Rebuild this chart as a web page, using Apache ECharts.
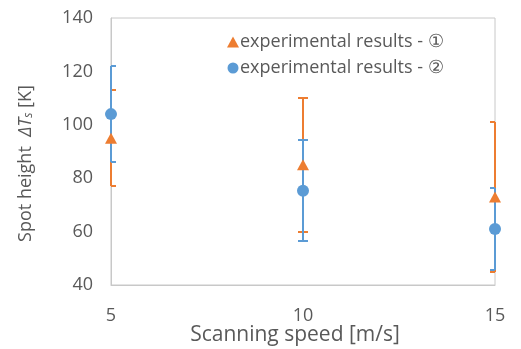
<!DOCTYPE html>
<html><head><meta charset="utf-8">
<script src="https://cdn.jsdelivr.net/npm/echarts@6/dist/echarts.min.js"></script>
<style>html,body{margin:0;padding:0;background:#fff}#c{width:521px;height:349px}</style>
</head><body><div id="c"></div>
<script>
const speeds = [5, 10, 15];
const res1 = [95, 85, 73];
const err1 = [18, 25, 28];
const res2 = [104, 75.3, 61];
const err2 = [18, 19, 15.5];
const yTicks = [40, 60, 80, 100, 120, 140];
const seriesNames = ['experimental results - ①', 'experimental results - ②'];
const orange = '#ED7D31', blue = '#5B9BD5';

function errData(vals, errs) {
  return speeds.map((s, i) => [s, vals[i] - errs[i], vals[i] + errs[i]]);
}
function errRender(color) {
  return function (params, api) {
    const x = api.value(0);
    const lo = api.coord([x, api.value(1)]);
    const hi = api.coord([x, api.value(2)]);
    const cs = params.coordSys;
    const half = 5;
    const px = Math.round(lo[0]);
    const l = Math.max(px - half, cs.x), r = Math.min(px + half, cs.x + cs.width);
    const mk = () => ({ stroke: color, lineWidth: 2, fill: null, opacity: 1 });
    const ylo = Math.round(lo[1]), yhi = Math.round(hi[1]);
    return { type: 'group', children: [
      { type: 'line', shape: { x1: px, y1: ylo, x2: px, y2: yhi }, style: mk() },
      { type: 'line', shape: { x1: l, y1: ylo, x2: r, y2: ylo }, style: mk() },
      { type: 'line', shape: { x1: l, y1: yhi, x2: r, y2: yhi }, style: mk() }
    ]};
  };
}
const chart = echarts.init(document.getElementById('c'), null, { renderer: 'canvas' });
const font = 'Open Sans';
const grey = '#595959';
chart.setOption({
  animation: false,
  textStyle: { fontFamily: font },
  grid: { left: 111, right: 26, top: 18, bottom: 64, show: true, borderColor: '#c8c8c8', borderWidth: 1,
          containLabel: false, outerBoundsMode: 'none' },
  legend: {
    orient: 'vertical', left: 222, top: 28, itemGap: 8, itemWidth: 12, itemHeight: 11,
    textStyle: { fontSize: 18, color: grey, fontFamily: font, padding: [0, 0, 0, -4] },
    data: [{ name: seriesNames[0], icon: 'triangle' }, { name: seriesNames[1], icon: 'circle' }]
  },
  xAxis: {
    type: 'value', min: 5, max: 15, interval: 5,
    name: 'Scanning speed [m/s]', nameLocation: 'middle', nameGap: 40, nameMoveOverlap: false,
    nameTextStyle: { fontSize: 21, color: grey, padding: [0, 16, 0, 0] },
    axisLine: { show: true, lineStyle: { color: '#c8c8c8' } }, axisTick: { show: false },
    axisLabel: { fontSize: 18, color: grey, margin: 22 },
    splitLine: { show: false }
  },
  yAxis: {
    type: 'value', min: yTicks[0], max: yTicks[yTicks.length - 1], interval: 20,
    name: '{n|Spot height  }{i|ΔT}{s|s}{n| [K]}', nameLocation: 'middle', nameGap: 76, nameMoveOverlap: false,
    nameTextStyle: { padding: [0, 24, 0, 0], rich: {
      n: { fontSize: 18, color: grey, fontFamily: font },
      i: { fontSize: 18, color: grey, fontStyle: 'italic', fontFamily: font },
      s: { fontSize: 12, color: grey, fontStyle: 'italic', fontFamily: font, verticalAlign: 'bottom', padding: [7, 0, 0, 0] }
    } },
    axisLine: { show: true, lineStyle: { color: '#c8c8c8' } }, axisTick: { show: false },
    axisLabel: { fontSize: 18, color: grey, margin: 18 },
    splitLine: { show: false }
  },
  series: [
    { type: 'custom', name: 'err1', renderItem: errRender(orange), data: errData(res1, err1), z: 2, silent: true },
    { type: 'custom', name: 'err2', renderItem: errRender(blue), data: errData(res2, err2), z: 3, silent: true },
    { type: 'scatter', name: seriesNames[0], symbol: 'triangle', symbolSize: [12, 11], itemStyle: { color: orange, opacity: 1 },
      data: speeds.map((s, i) => [s, res1[i]]), z: 4, clip: false },
    { type: 'scatter', name: seriesNames[1], symbol: 'circle', symbolSize: 12, itemStyle: { color: blue, opacity: 1 },
      data: speeds.map((s, i) => [s, res2[i]]), z: 5, clip: false }
  ]
});
</script></body></html>
